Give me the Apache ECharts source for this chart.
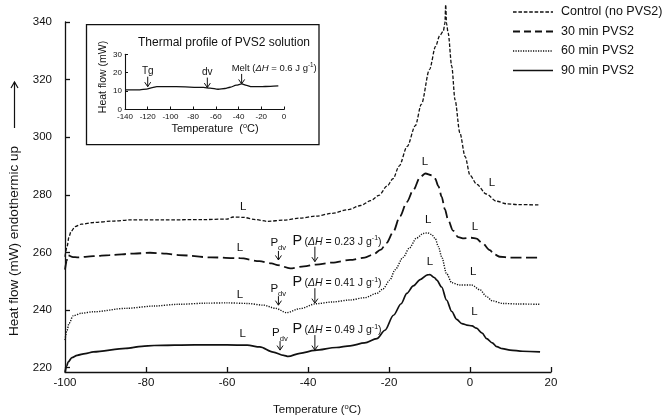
<!DOCTYPE html>
<html><head><meta charset="utf-8">
<script src="https://cdn.jsdelivr.net/npm/echarts@6/dist/echarts.min.js"></script>
<style>html,body{margin:0;padding:0;background:#fff}#c{width:669px;height:420px}</style>
</head><body><div id="c"></div>
<script>
// ---------------- data ----------------
const seriesNames = ['Control (no PVS2)', '30 min PVS2', '60 min PVS2', '90 min PVS2'];
const controlData = [[-100,258.5],[-99.5,262],[-99,265.5],[-98.5,267.3],[-97.5,269],[-96,269.8],[-93,270.4],[-88,270.9],[-84,271.3],[-76,271.3],[-66,271.4],[-60,271.6],[-58.5,272.3],[-56,272.2],[-53,271.4],[-50,270.8],[-46,271.2],[-42,271.9],[-38,272.6],[-34,273.6],[-30,274.9],[-27,276.3],[-24.5,278],[-22.5,279.8],[-20.5,283],[-19,285.6],[-17.5,290],[-15.5,296.8],[-13.5,304],[-12,311.5],[-10,323.5],[-8.5,331.5],[-7.5,335.2],[-6.6,336.8],[-6.2,339.5],[-6.0,346],[-5.8,339.5],[-5.4,336.2],[-4.5,324.6],[-3.7,313],[-2.5,301.5],[-1.2,293.3],[0,286.8],[1.7,283.6],[4,280.3],[6.5,277.8],[9,276.9],[12,276.6],[17.3,276.5]];
const min30Data = [[-100,254],[-99.6,257],[-99.3,259],[-98,258.4],[-97,258.3],[-93,258.7],[-89,259.1],[-83,259.6],[-79,259.9],[-75,259.6],[-72,259.1],[-64,258.3],[-56.8,258],[-52,257],[-49,256.2],[-47.5,255.6],[-44.4,254.5],[-41,255.2],[-38,255.8],[-34,256.5],[-29.6,257.4],[-26,258.2],[-23.9,259.3],[-22,261],[-20.6,263.3],[-19,267],[-17.3,272.5],[-15.6,277.5],[-14,281.7],[-12.3,286.2],[-11,287.4],[-9.5,286.8],[-8.6,285.6],[-7.8,283],[-7,279.4],[-6.2,275],[-5.4,271.3],[-4.2,267.6],[-2.9,265.3],[-1.5,264.9],[0.3,265.1],[1.6,264.8],[3,263.3],[4.9,260.8],[6,259.3],[7.4,258.5],[10,258.2],[17.3,258.2]];
const min60Data = [[-100,229.6],[-99.5,233],[-99,235.4],[-98,238],[-96,238.9],[-93,239.4],[-85,240.6],[-78,241.4],[-72,242],[-65,242.4],[-60,242.5],[-55,242.3],[-51,241.7],[-48,240.6],[-45.3,239.1],[-42,240.5],[-38,242.2],[-34,242.8],[-29.6,243.5],[-26,244.3],[-23,245.8],[-21.5,247.3],[-19.8,250.4],[-18.5,254],[-16.5,258.3],[-15,261.5],[-13.2,265],[-11.5,266.6],[-10.5,266.8],[-9.5,266.2],[-8.6,264.9],[-7.8,262],[-7,258.5],[-5.8,252.7],[-4.5,249.5],[-2.5,248.7],[0.4,248.7],[2.5,247],[4,244.8],[5.5,243.2],[8.2,242.3],[12,242.1],[17.3,242]];
const min90Data = [[-100,218.5],[-99.6,220.5],[-99.2,222],[-98.3,223.5],[-97,224.3],[-95,224.9],[-93,225.5],[-85,226.7],[-81,227.4],[-78,227.7],[-68,227.9],[-60,227.9],[-55,227.8],[-51.9,227.2],[-48.6,225.4],[-46,224.3],[-44.9,223.9],[-42,225],[-38.3,226],[-33,227],[-29.6,227.6],[-26,228.6],[-23,230.1],[-21,233],[-18.9,238.2],[-17,242.2],[-15.6,245.8],[-14,248.4],[-12.3,250.6],[-10.5,252.2],[-9.9,252.3],[-8.8,251.3],[-8.2,250.4],[-7,248],[-5.8,243.5],[-4.5,239.5],[-3.3,236.8],[-2,235.3],[-0.8,234.8],[0.5,234.5],[1.6,233.7],[3,232],[4.1,230.1],[5.5,228.6],[6.6,227.3],[8,226.6],[9.9,226.1],[13,225.7],[17.3,225.5]];
const insetT = [-140,-127,-121,-116,-112,-95,-71,-65,-58,-52,-47.5,-42,-37.3,-33,-28.5,-21,-12,-5];
const insetV = [10.7,10.7,11.1,11.9,12.4,12.4,12.0,11.6,11.0,11.4,12.1,13.2,13.9,13.1,12.4,12.4,12.6,12.8];
const yTicks = [220,240,260,280,300,320,340];
// annotations (data coords)
const lMarks = [[-56,275.9],[5.4,284.1],[-11.1,291.6],[-56.8,261.5],[1.2,269.0],[-56.8,245.2],[-10.3,271.3],[0.8,253.3],[-56.1,231.7],[-9.9,256.8],[1.1,239.4]];
const pdvTips = [[-47.3,257.4],[-47.3,241.7],[-46.9,226.1]];
const pTips = [[-38.3,256.8],[-38.3,242.4],[-38.3,226.1]];
const dHValues = ['0.23','0.41','0.49'];
const insetMarks = [[-120,12.4,'Tg'],[-67.5,11.9,'dv'],[-37.3,13.9,'Melt']];
const insetDH = '0.6';

// ---------------- chart ----------------
const FONT = '"Liberation Sans", Arial, sans-serif';
const INK = '#111';
const chart = echarts.init(document.getElementById('c'), null, {renderer:'canvas'});
const styles = [
  {type:[3.6,1.8], width:1.3},
  {type:[11,4.5], width:1.8},
  {type:[1.2,1.3], width:1.4},
  {type:'solid', width:1.7}
];
const mainData = [controlData, min30Data, min60Data, min90Data];
const series = mainData.map((d,i)=>({
  name: seriesNames[i], type:'line', xAxisIndex:0, yAxisIndex:0, data:d,
  symbol:'none', showSymbol:false, smooth:0.3, smoothMonotone:'x', clip: i!==0,
  lineStyle:{color:INK, width:styles[i].width, type:styles[i].type},
  itemStyle:{color:INK}
}));
series.push({
  name:'inset', type:'line', xAxisIndex:1, yAxisIndex:1,
  data: insetT.map((t,i)=>[t, insetV[i]]),
  symbol:'none', smooth:0.3, smoothMonotone:'x',
  lineStyle:{color:INK, width:1.3}
});

function axLine(w){ return {onZero:false, lineStyle:{color:INK, width:w}}; }
chart.setOption({
  animation:false,
  backgroundColor:'#fff',
  textStyle:{fontFamily:FONT},
  grid:[
    {left:65, top:22, width:486, height:350},
    {left:125, top:54.3, width:159, height:55.2}
  ],
  xAxis:[
    {type:'value', gridIndex:0, min:-100, max:20, interval:20, splitLine:{show:false}, axisLine:axLine(1.3),
      axisTick:{inside:true, length:5, lineStyle:{color:INK, width:1.3}},
      axisLabel:{fontSize:11.5, color:INK, margin:5, fontFamily:FONT}},
    {type:'value', gridIndex:1, min:-140, max:0, interval:20, splitLine:{show:false}, axisLine:axLine(1.1),
      axisTick:{inside:true, length:3, lineStyle:{color:INK, width:1}},
      axisLabel:{fontSize:8, color:INK, margin:3, fontFamily:FONT}}
  ],
  yAxis:[
    {type:'value', gridIndex:0, min:218.5, max:340, splitLine:{show:false}, axisLine:axLine(1.3),
      axisTick:{inside:true, length:5, customValues:yTicks, lineStyle:{color:INK, width:1.3}},
      axisLabel:{fontSize:11.5, color:INK, margin:13, customValues:yTicks, fontFamily:FONT}},
    {type:'value', gridIndex:1, min:0, max:30, interval:10, splitLine:{show:false}, axisLine:axLine(1.1),
      axisTick:{inside:true, length:3, lineStyle:{color:INK, width:1}},
      axisLabel:{fontSize:8, color:INK, margin:3, fontFamily:FONT}}
  ],
  series: series
});

// ---------------- text helpers ----------------
const mctx = document.createElement('canvas').getContext('2d');
function fontStr(size, italic){ return (italic?'italic ':'') + size + 'px ' + FONT; }
function tw(t, size, italic){ mctx.font = fontStr(size, italic); return mctx.measureText(t).width; }
// parts: [text, kind] with kind '' | 'i' | 'sup' | 'sub'
function runText(x, baseline, size, parts, align, rot){
  const items = parts.map(([t,k])=>{
    const s = (k==='sup'||k==='sub') ? size*0.66 : size;
    const it = k==='i';
    return {t, k, s, it, w: tw(t, s, it)};
  });
  const total = items.reduce((a,b)=>a+b.w,0);
  let cx = align==='center' ? -total/2 : 0;
  const children = [];
  items.forEach(o=>{
    let cy;
    if (o.k==='sup') cy = -size*0.66;
    else if (o.k==='sub') cy = size*0.12;
    else cy = -size*0.33;
    children.push({type:'text', x:cx, y:cy, silent:true,
      style:{text:o.t, font:fontStr(o.s,o.it), fill:INK, align:'left', verticalAlign:'middle'}});
    cx += o.w;
  });
  return {type:'group', x:x, y:baseline, rotation: rot||0, children, silent:true};
}
function arrow(x, yTip, len){
  return {type:'group', silent:true, children:[
    {type:'polyline', shape:{points:[[x, yTip-len],[x, yTip]]}, style:{stroke:INK, lineWidth:1, fill:null}},
    {type:'polyline', shape:{points:[[x-3, yTip-4.5],[x, yTip],[x+3, yTip-4.5]]}, style:{stroke:INK, lineWidth:1, fill:null}}
  ]};
}

const g = [];
// inset box
g.push({type:'rect', shape:{x:86.5, y:24.7, width:232.5, height:120}, style:{fill:null, stroke:INK, lineWidth:1.3}, silent:true, z:-1});
// inset titles
g.push(runText(224, 47, 12, [['Thermal profile of PVS2 solution','']], 'center'));
g.push(runText(215, 133, 11, [['Temperature  (',''],['o','sup'],['C)','']], 'center'));
g.push(runText(107, 77, 10.5, [['Heat flow (mW)','']], 'center', Math.PI/2));
// main axis titles
g.push(runText(317, 414, 11.5, [['Temperature (',''],['o','sup'],['C)','']], 'center'));
g.push(runText(19, 241, 13.5, [['Heat flow (mW) endothermic up','']], 'center', Math.PI/2));
// y-title arrow
g.push({type:'group', silent:true, children:[
  {type:'polyline', shape:{points:[[14.5,128],[14.5,82]]}, style:{stroke:INK, lineWidth:1.2, fill:null}},
  {type:'polyline', shape:{points:[[11,88],[14.5,82],[18,88]]}, style:{stroke:INK, lineWidth:1.2, fill:null}}
]});
// custom legend (line samples use the series styles)
const legendRowY = [12, 31.5, 51, 70.5];
seriesNames.forEach((n,i)=>{
  const y = legendRowY[i];
  const st = styles[i];
  g.push({type:'line', silent:true, shape:{x1:513, y1:y, x2:553, y2:y},
    style:{stroke:INK, lineWidth:st.width, lineDash: st.type==='solid'?null:(i===1?[7,4]:st.type)}});
  g.push({type:'text', silent:true, x:561, y:y,
    style:{text:n, font:fontStr(12.5,false), fill:INK, align:'left', verticalAlign:'middle'}});
});
// L labels
lMarks.forEach(([t,v])=>{
  const p = chart.convertToPixel({gridIndex:0},[t,v]);
  g.push(runText(p[0], p[1]+3.8, 11.5, [['L','']], 'center'));
});
// Pdv and P annotations
pdvTips.forEach(([t,v])=>{
  const p = chart.convertToPixel({gridIndex:0},[t,v]);
  g.push(arrow(p[0], p[1], 9));
  g.push(runText(p[0]-8, p[1]-13, 11.5, [['P',''],['dv','sub']], 'left'));
});
pTips.forEach(([t,v],i)=>{
  const p = chart.convertToPixel({gridIndex:0},[t,v]);
  g.push(arrow(p[0], p[1], 15));
  g.push(runText(p[0]-22.5, p[1]-16, 14.5, [['P','']], 'left'));
  g.push(runText(p[0]-10.5, p[1]-16.5, 10.5, [['(',''],['\u0394H','i'],[' = '+dHValues[i]+' J g',''],['-1','sup'],[')','']], 'left'));
});
// inset annotations
insetMarks.forEach(([t,v,lab])=>{
  const p = chart.convertToPixel({gridIndex:1},[t,v]);
  g.push(arrow(p[0], p[1], 10));
  if (lab==='Melt') {
    g.push(runText(p[0]-10, p[1]-12.5, 9.5, [['Melt (',''],['\u0394H','i'],[' = '+insetDH+' J g',''],['-1','sup'],[')','']], 'left'));
  } else {
    g.push(runText(p[0], p[1]-12.5, 10, [[lab,'']], 'center'));
  }
});
chart.setOption({graphic:g});
</script></body></html>
